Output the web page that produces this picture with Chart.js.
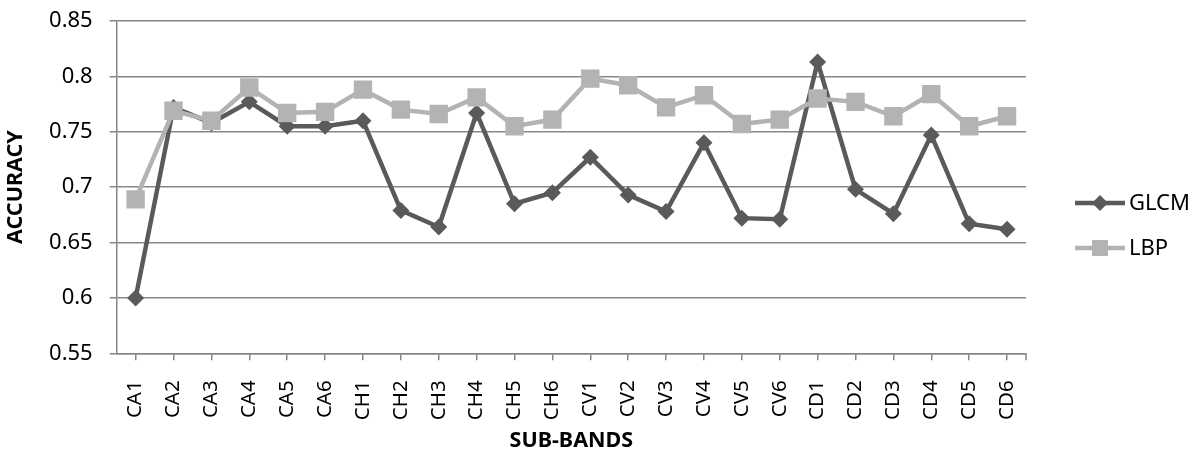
<!DOCTYPE html>
<html>
<head>
<meta charset="utf-8">
<title>GLCM vs LBP accuracy</title>
<script src="https://cdn.jsdelivr.net/npm/chart.js@4.4.1/dist/chart.umd.min.js"></script>
<style>
  html, body { margin: 0; padding: 0; background: #fff; }
  #wrap { width: 1193px; height: 452px; }
</style>
</head>
<body>
<div id="wrap"><canvas id="myChart" width="1193" height="452"></canvas></div>
<script>
// sub-bands on the x axis
const subBands = ['CA1', 'CA2', 'CA3', 'CA4', 'CA5', 'CA6',
                  'CH1', 'CH2', 'CH3', 'CH4', 'CH5', 'CH6',
                  'CV1', 'CV2', 'CV3', 'CV4', 'CV5', 'CV6',
                  'CD1', 'CD2', 'CD3', 'CD4', 'CD5', 'CD6'];

// accuracy values
const glcmAcc = [0.600, 0.772, 0.758, 0.777, 0.755, 0.755,
                 0.760, 0.679, 0.664, 0.767, 0.685, 0.695,
                 0.727, 0.693, 0.678, 0.740, 0.672, 0.671,
                 0.813, 0.698, 0.676, 0.747, 0.667, 0.662];

const lbpAcc = [0.689, 0.769, 0.760, 0.790, 0.767, 0.768,
                0.788, 0.770, 0.766, 0.781, 0.755, 0.761,
                0.798, 0.792, 0.772, 0.783, 0.757, 0.761,
                0.780, 0.777, 0.764, 0.784, 0.755, 0.764];

const yMin = 0.55, yMax = 0.85, yStep = 0.05;

const FONT = '"Noto Sans", "Open Sans", sans-serif';
const gridGray = '#878787';
const glcmColor = '#5a5a5a';
const lbpColor = '#b3b3b3';

// legend drawn at the right, line with marker in the middle
const sideLegend = {
  id: 'sideLegend',
  afterDraw(chart) {
    const ctx = chart.ctx;
    const x0 = 1075, x1 = 1125, cx = (x0 + x1) / 2;
    const rows = [203, 248];
    ctx.save();
    chart.data.datasets.forEach((ds, i) => {
      const y = rows[i];
      ctx.strokeStyle = ds.borderColor;
      ctx.lineWidth = ds.borderWidth;
      ctx.beginPath();
      ctx.moveTo(x0, y);
      ctx.lineTo(x1, y);
      ctx.stroke();

      ctx.fillStyle = ds.pointBackgroundColor;
      ctx.beginPath();
      if (ds.pointStyle === 'rect') {
        const s = 8;
        ctx.rect(cx - s, y - s, 2 * s, 2 * s);
      } else {
        const r = 8;
        ctx.moveTo(cx, y - r);
        ctx.lineTo(cx + r, y);
        ctx.lineTo(cx, y + r);
        ctx.lineTo(cx - r, y);
        ctx.closePath();
      }
      ctx.fill();

      ctx.fillStyle = '#000';
      ctx.font = '22px ' + FONT;
      ctx.textAlign = 'left';
      ctx.textBaseline = 'middle';
      ctx.fillText(ds.label, x1 + 4, y + 1);
    });
    ctx.restore();
  }
};

// small tick at the right end of the x axis
const endTick = {
  id: 'endTick',
  afterDraw(chart) {
    const a = chart.chartArea;
    const ctx = chart.ctx;
    ctx.save();
    ctx.strokeStyle = gridGray;
    ctx.lineWidth = 1.5;
    ctx.beginPath();
    ctx.moveTo(a.right, a.bottom);
    ctx.lineTo(a.right, a.bottom + 7);
    ctx.stroke();
    ctx.restore();
  }
};

const myChart = new Chart(document.getElementById('myChart').getContext('2d'), {
  type: 'line',
  data: {
    labels: subBands,
    datasets: [{
      label: 'GLCM',
      data: glcmAcc,
      borderColor: glcmColor,
      backgroundColor: glcmColor,
      pointBackgroundColor: glcmColor,
      pointBorderColor: glcmColor,
      pointBorderWidth: 0,
      borderWidth: 4.5,
      pointStyle: 'rectRot',
      pointRadius: 8.5,
      pointHoverRadius: 8.5,
      tension: 0,
      order: 1
    }, {
      label: 'LBP',
      data: lbpAcc,
      borderColor: lbpColor,
      backgroundColor: lbpColor,
      pointBackgroundColor: lbpColor,
      pointBorderColor: lbpColor,
      pointBorderWidth: 0,
      borderWidth: 4.5,
      pointStyle: 'rect',
      pointRadius: 13,
      pointHoverRadius: 13,
      tension: 0,
      order: 0
    }]
  },
  options: {
    responsive: false,
    animation: false,
    devicePixelRatio: 1,
    layout: { padding: { left: 0, right: 167, top: 21, bottom: 0 } },
    plugins: {
      legend: { display: false },
      tooltip: { enabled: false },
      title: { display: false }
    },
    scales: {
      x: {
        type: 'category',
        offset: true,
        afterFit: (s) => { s.height = 98.7; },
        grid: {
          offset: false,
          drawOnChartArea: false,
          drawTicks: true,
          tickLength: 7,
          color: gridGray,
          lineWidth: 1.5
        },
        border: { display: true, color: gridGray, width: 1.5 },
        ticks: {
          autoSkip: false,
          minRotation: 90,
          maxRotation: 90,
          padding: 20,
          color: '#000',
          font: { family: FONT, size: 20.5 }
        },
        title: {
          display: true,
          text: 'SUB-BANDS',
          color: '#000',
          padding: 0,
          font: { family: FONT, size: 21.5, weight: 'bold', lineHeight: 1 }
        }
      },
      y: {
        min: yMin,
        max: yMax,
        afterFit: (s) => {
          s.width = 116.7;
          // keep the plot top where the reference has it
          s.paddingTop = 10;
          s.paddingBottom = 10;
        },
        grid: {
          drawTicks: true,
          tickLength: 7,
          color: gridGray,
          lineWidth: 1.5
        },
        border: { display: true, color: gridGray, width: 1.5 },
        ticks: {
          stepSize: yStep,
          padding: 17,
          color: '#000',
          font: { family: FONT, size: 22 },
          callback: (v) => String(parseFloat(Number(v).toFixed(2)))
        },
        title: {
          display: true,
          text: 'ACCURACY',
          color: '#000',
          padding: { top: 5, bottom: 0 },
          font: { family: FONT, size: 21.5, weight: 'bold', lineHeight: 1 }
        }
      }
    }
  },
  plugins: [sideLegend, endTick]
});
</script>
</body>
</html>
